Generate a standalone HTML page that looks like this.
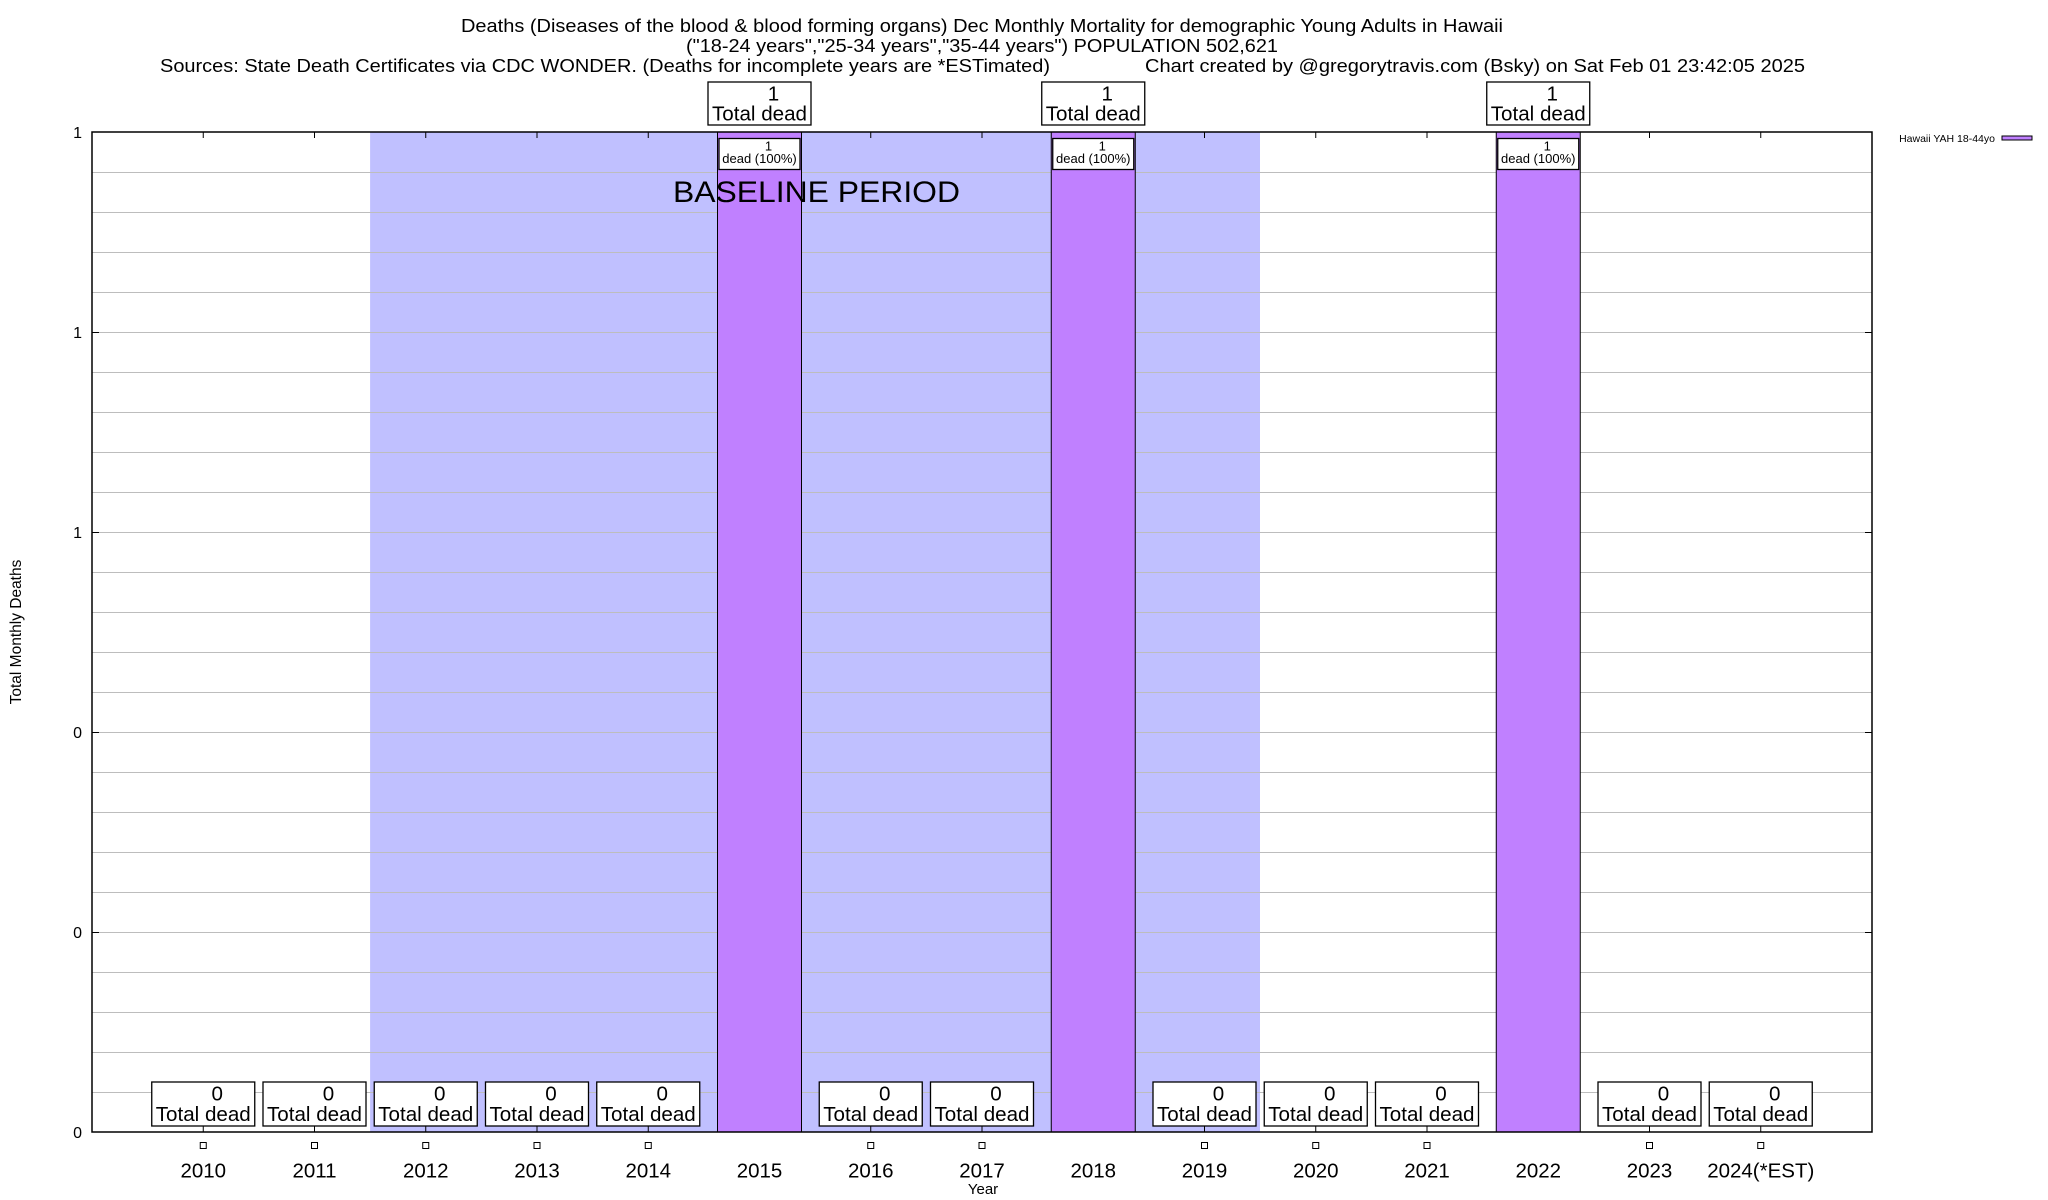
<!DOCTYPE html>
<html>
<head>
<meta charset="utf-8">
<style>
html,body{margin:0;padding:0;background:#fff;}
svg{display:block;}
text{font-family:"Liberation Sans",Arial,sans-serif;fill:#000;}
</style>
</head>
<body>
<svg width="2048" height="1200" viewBox="0 0 2048 1200" xmlns="http://www.w3.org/2000/svg">
<rect x="0" y="0" width="2048" height="1200" fill="#fff"/>

<!-- Title -->
<text x="461" y="32" font-size="18.5" textLength="1042" lengthAdjust="spacingAndGlyphs">Deaths (Diseases of the blood &amp; blood forming organs) Dec Monthly Mortality for demographic Young Adults in Hawaii</text>
<text x="686" y="52" font-size="18.5" textLength="592" lengthAdjust="spacingAndGlyphs">("18-24 years","25-34 years","35-44 years") POPULATION 502,621</text>
<text x="160" y="72" font-size="18.5" textLength="890" lengthAdjust="spacingAndGlyphs">Sources: State Death Certificates via CDC WONDER. (Deaths for incomplete years are *ESTimated)</text>
<text x="1145" y="72" font-size="18.5" textLength="660" lengthAdjust="spacingAndGlyphs">Chart created by @gregorytravis.com (Bsky) on Sat Feb 01 23:42:05 2025</text>

<!-- Baseline shading -->
<rect x="370.1" y="132" width="889.9" height="1000" fill="#c0c0ff"/>

<!-- Gridlines -->
<g stroke="#bdbdbd" stroke-width="1">
<line x1="92" y1="172.5" x2="1872" y2="172.5"/>
<line x1="92" y1="212.5" x2="1872" y2="212.5"/>
<line x1="92" y1="252.5" x2="1872" y2="252.5"/>
<line x1="92" y1="292.5" x2="1872" y2="292.5"/>
<line x1="92" y1="332.5" x2="1872" y2="332.5"/>
<line x1="92" y1="372.5" x2="1872" y2="372.5"/>
<line x1="92" y1="412.5" x2="1872" y2="412.5"/>
<line x1="92" y1="452.5" x2="1872" y2="452.5"/>
<line x1="92" y1="492.5" x2="1872" y2="492.5"/>
<line x1="92" y1="532.5" x2="1872" y2="532.5"/>
<line x1="92" y1="572.5" x2="1872" y2="572.5"/>
<line x1="92" y1="612.5" x2="1872" y2="612.5"/>
<line x1="92" y1="652.5" x2="1872" y2="652.5"/>
<line x1="92" y1="692.5" x2="1872" y2="692.5"/>
<line x1="92" y1="732.5" x2="1872" y2="732.5"/>
<line x1="92" y1="772.5" x2="1872" y2="772.5"/>
<line x1="92" y1="812.5" x2="1872" y2="812.5"/>
<line x1="92" y1="852.5" x2="1872" y2="852.5"/>
<line x1="92" y1="892.5" x2="1872" y2="892.5"/>
<line x1="92" y1="932.5" x2="1872" y2="932.5"/>
<line x1="92" y1="972.5" x2="1872" y2="972.5"/>
<line x1="92" y1="1012.5" x2="1872" y2="1012.5"/>
<line x1="92" y1="1052.5" x2="1872" y2="1052.5"/>
<line x1="92" y1="1092.5" x2="1872" y2="1092.5"/>
</g>

<!-- Bars -->
<g fill="#c080ff" stroke="#000" stroke-width="1">
<rect x="717.5" y="132" width="84" height="1000"/>
<rect x="1051.25" y="132" width="84" height="1000"/>
<rect x="1496.25" y="132" width="84" height="1000"/>
</g>

<!-- BASELINE PERIOD -->
<text x="673" y="202" font-size="30" textLength="287" lengthAdjust="spacingAndGlyphs">BASELINE PERIOD</text>

<!-- Axis ticks -->
<g stroke="#000" stroke-width="1">
<line x1="92" y1="332.5" x2="99" y2="332.5"/>
<line x1="92" y1="532.5" x2="99" y2="532.5"/>
<line x1="92" y1="732.5" x2="99" y2="732.5"/>
<line x1="92" y1="932.5" x2="99" y2="932.5"/>
<line x1="1865" y1="332.5" x2="1872" y2="332.5"/>
<line x1="1865" y1="532.5" x2="1872" y2="532.5"/>
<line x1="1865" y1="732.5" x2="1872" y2="732.5"/>
<line x1="1865" y1="932.5" x2="1872" y2="932.5"/>
<line x1="203.25" y1="1126" x2="203.25" y2="1132"/>
<line x1="314.5" y1="1126" x2="314.5" y2="1132"/>
<line x1="425.75" y1="1126" x2="425.75" y2="1132"/>
<line x1="537" y1="1126" x2="537" y2="1132"/>
<line x1="648.25" y1="1126" x2="648.25" y2="1132"/>
<line x1="870.75" y1="1126" x2="870.75" y2="1132"/>
<line x1="982" y1="1126" x2="982" y2="1132"/>
<line x1="1204.5" y1="1126" x2="1204.5" y2="1132"/>
<line x1="1315.75" y1="1126" x2="1315.75" y2="1132"/>
<line x1="1427" y1="1126" x2="1427" y2="1132"/>
<line x1="1649.5" y1="1126" x2="1649.5" y2="1132"/>
<line x1="1760.75" y1="1126" x2="1760.75" y2="1132"/>
<line x1="203.25" y1="132" x2="203.25" y2="138"/>
<line x1="314.5" y1="132" x2="314.5" y2="138"/>
<line x1="425.75" y1="132" x2="425.75" y2="138"/>
<line x1="537" y1="132" x2="537" y2="138"/>
<line x1="648.25" y1="132" x2="648.25" y2="138"/>
<line x1="870.75" y1="132" x2="870.75" y2="138"/>
<line x1="982" y1="132" x2="982" y2="138"/>
<line x1="1204.5" y1="132" x2="1204.5" y2="138"/>
<line x1="1315.75" y1="132" x2="1315.75" y2="138"/>
<line x1="1427" y1="132" x2="1427" y2="138"/>
<line x1="1649.5" y1="132" x2="1649.5" y2="138"/>
<line x1="1760.75" y1="132" x2="1760.75" y2="138"/>
</g>

<!-- Plot border -->
<rect x="92" y="132" width="1780" height="1000" fill="none" stroke="#000" stroke-width="1.5"/>

<!-- Y labels -->
<g font-size="16" text-anchor="end">
<text x="82" y="138">1</text>
<text x="82" y="338">1</text>
<text x="82" y="538">1</text>
<text x="82" y="738">0</text>
<text x="82" y="938">0</text>
<text x="82" y="1138">0</text>
</g>
<text transform="translate(21,632) rotate(-90)" font-size="15.5" text-anchor="middle">Total Monthly Deaths</text>

<!-- Boxes -->
<g fill="#fff" stroke="#000" stroke-width="1.3">
<rect x="151.75" y="1082" width="103" height="44"/>
<rect x="263" y="1082" width="103" height="44"/>
<rect x="374.25" y="1082" width="103" height="44"/>
<rect x="485.5" y="1082" width="103" height="44"/>
<rect x="596.75" y="1082" width="103" height="44"/>
<rect x="819.25" y="1082" width="103" height="44"/>
<rect x="930.5" y="1082" width="103" height="44"/>
<rect x="1153" y="1082" width="103" height="44"/>
<rect x="1264.25" y="1082" width="103" height="44"/>
<rect x="1375.5" y="1082" width="103" height="44"/>
<rect x="1598" y="1082" width="103" height="44"/>
<rect x="1709.25" y="1082" width="103" height="44"/>
<rect x="708" y="82" width="103" height="43"/>
<rect x="1041.75" y="82" width="103" height="43"/>
<rect x="1486.75" y="82" width="103" height="43"/>
<rect x="719" y="138.5" width="81" height="31"/>
<rect x="1052.75" y="138.5" width="81" height="31"/>
<rect x="1497.75" y="138.5" width="81" height="31"/>
</g>

<g font-size="20.6" text-anchor="middle">
<text x="217.25" y="1100.7">0</text><text x="203.25" y="1121">Total dead</text>
<text x="328.5" y="1100.7">0</text><text x="314.5" y="1121">Total dead</text>
<text x="439.75" y="1100.7">0</text><text x="425.75" y="1121">Total dead</text>
<text x="551" y="1100.7">0</text><text x="537" y="1121">Total dead</text>
<text x="662.25" y="1100.7">0</text><text x="648.25" y="1121">Total dead</text>
<text x="884.75" y="1100.7">0</text><text x="870.75" y="1121">Total dead</text>
<text x="996" y="1100.7">0</text><text x="982" y="1121">Total dead</text>
<text x="1218.5" y="1100.7">0</text><text x="1204.5" y="1121">Total dead</text>
<text x="1329.75" y="1100.7">0</text><text x="1315.75" y="1121">Total dead</text>
<text x="1441" y="1100.7">0</text><text x="1427" y="1121">Total dead</text>
<text x="1663.5" y="1100.7">0</text><text x="1649.5" y="1121">Total dead</text>
<text x="1774.75" y="1100.7">0</text><text x="1760.75" y="1121">Total dead</text>

<text x="773.5" y="100.5">1</text><text x="759.5" y="120.5">Total dead</text>
<text x="1107.25" y="100.5">1</text><text x="1093.25" y="120.5">Total dead</text>
<text x="1552.25" y="100.5">1</text><text x="1538.25" y="120.5">Total dead</text>
</g>

<g font-size="13" text-anchor="middle">
<text x="768.5" y="150.5">1</text><text x="759.5" y="163">dead (100%)</text>
<text x="1102.25" y="150.5">1</text><text x="1093.25" y="163">dead (100%)</text>
<text x="1547.25" y="150.5">1</text><text x="1538.25" y="163">dead (100%)</text>
</g>

<!-- Small square markers -->
<g fill="#fff" stroke="#000" stroke-width="1">
<rect x="200.25" y="1142.5" width="6" height="6"/>
<rect x="311.5" y="1142.5" width="6" height="6"/>
<rect x="422.75" y="1142.5" width="6" height="6"/>
<rect x="534" y="1142.5" width="6" height="6"/>
<rect x="645.25" y="1142.5" width="6" height="6"/>
<rect x="867.75" y="1142.5" width="6" height="6"/>
<rect x="979" y="1142.5" width="6" height="6"/>
<rect x="1201.5" y="1142.5" width="6" height="6"/>
<rect x="1312.75" y="1142.5" width="6" height="6"/>
<rect x="1424" y="1142.5" width="6" height="6"/>
<rect x="1646.5" y="1142.5" width="6" height="6"/>
<rect x="1757.75" y="1142.5" width="6" height="6"/>
</g>

<!-- X labels -->
<g font-size="20.5" text-anchor="middle">
<text x="203.25" y="1177.3">2010</text>
<text x="314.5" y="1177.3">2011</text>
<text x="425.75" y="1177.3">2012</text>
<text x="537" y="1177.3">2013</text>
<text x="648.25" y="1177.3">2014</text>
<text x="759.5" y="1177.3">2015</text>
<text x="870.75" y="1177.3">2016</text>
<text x="982" y="1177.3">2017</text>
<text x="1093.25" y="1177.3">2018</text>
<text x="1204.5" y="1177.3">2019</text>
<text x="1315.75" y="1177.3">2020</text>
<text x="1427" y="1177.3">2021</text>
<text x="1538.25" y="1177.3">2022</text>
<text x="1649.5" y="1177.3">2023</text>
<text x="1760.75" y="1177.3">2024(*EST)</text>
</g>
<text x="983" y="1194" font-size="15" text-anchor="middle">Year</text>

<!-- Legend -->
<text x="1995" y="142" font-size="10.5" text-anchor="end">Hawaii YAH 18-44yo</text>
<rect x="2002" y="136" width="30" height="4" fill="#c080ff" stroke="#000" stroke-width="1"/>
</svg>
</body>
</html>
